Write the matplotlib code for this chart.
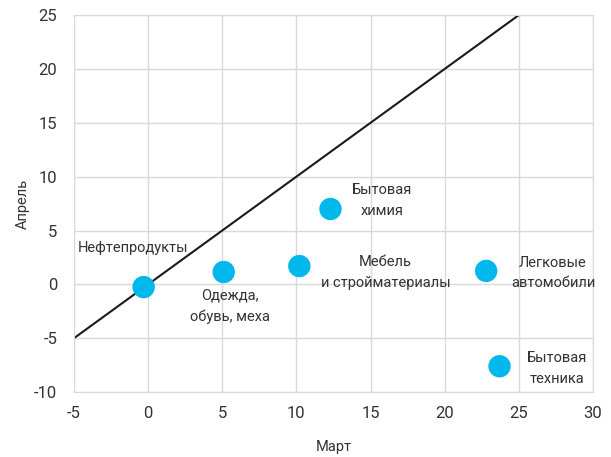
import matplotlib
matplotlib.use("Agg")
import matplotlib.pyplot as plt

# Данные: март (x) и апрель (y)
names = ["Нефтепродукты", "Одежда,\nобувь, меха", "Мебель\nи стройматериалы",
         "Бытовая\nхимия", "Легковые\nавтомобили", "Бытовая\nтехника"]
mar = [-0.3, 5.1, 10.2, 12.3, 22.8, 23.7]
apr = [-0.25, 1.15, 1.7, 7.0, 1.25, -7.6]
# позиции подписей (центр текста)
lab_x = [-1.0, 5.5, 16.0, 15.8, 27.3, 27.6]
lab_y = [3.4, -2.0, 1.1, 7.8, 1.05, -7.8]

plt.rcParams['font.family'] = ['Roboto', 'DejaVu Sans']
plt.rcParams['axes.unicode_minus'] = False

fig = plt.figure(figsize=(6.11, 4.57), dpi=100)
ax = fig.add_axes([0.121, 0.142, 0.8495, 0.825])

# линия y = x
ax.plot([-5, 30], [-5, 30], color='#1a1a1a', lw=1.5, zorder=2)
ax.scatter(mar, apr, s=260, color='#00B8EB', zorder=3, edgecolors='none')

for n, x, y in zip(names, lab_x, lab_y):
    ax.text(x, y, n, ha='center', va='center', fontsize=10.5, color='#333333',
            linespacing=1.6, zorder=4)

ax.set_xlim(-5, 30)
ax.set_ylim(-10, 25)
ax.set_xticks(range(-5, 31, 5))
ax.set_yticks(range(-10, 26, 5))
ax.grid(True, color='#d9d9d9', lw=1)
ax.set_axisbelow(True)
for s in ax.spines.values():
    s.set_color('#d9d9d9')
ax.tick_params(length=0, labelsize=12, colors='#333333')
ax.tick_params(axis='y', pad=12)
ax.tick_params(axis='x', pad=10)
ax.set_xlabel("Март", fontsize=10.5, color='#333333', labelpad=14)
ax.set_ylabel("Апрель", fontsize=10.5, color='#333333', labelpad=3)

fig.savefig("out.png", dpi=100)
